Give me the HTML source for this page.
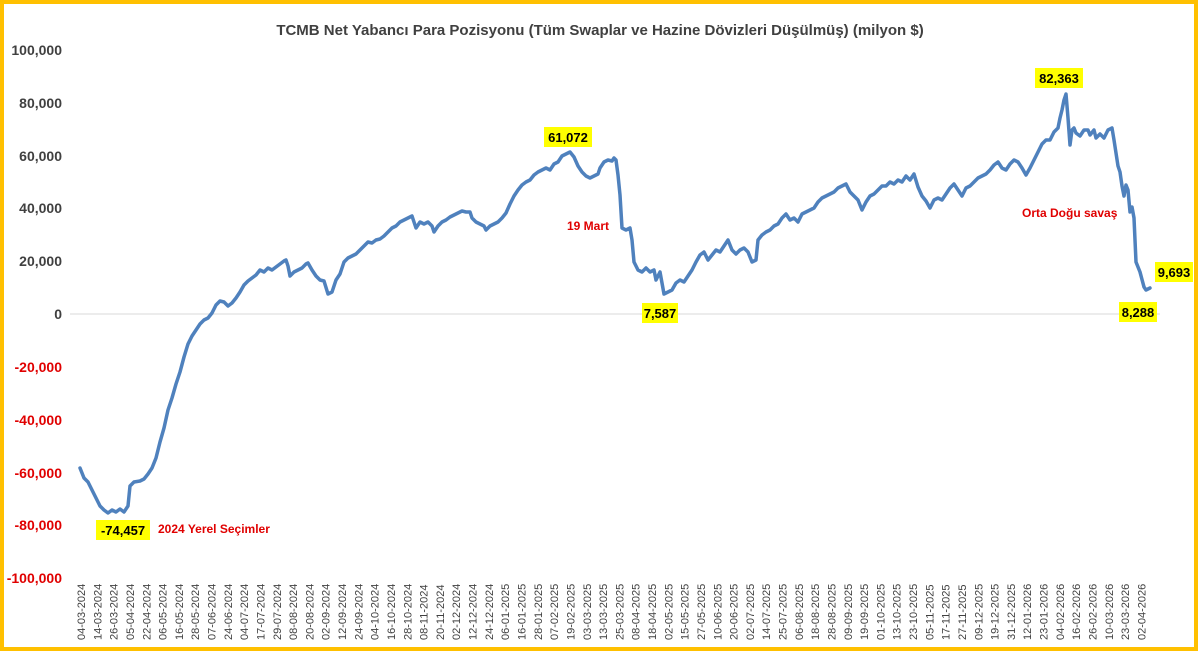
<!DOCTYPE html>
<html><head><meta charset="utf-8"><style>
html,body{margin:0;padding:0;background:#fff}
svg{display:block}
text{font-family:"Liberation Sans","DejaVu Sans",sans-serif}
</style></head><body>
<svg width="1200" height="653" viewBox="0 0 1200 653" xmlns="http://www.w3.org/2000/svg">
<rect x="0" y="0" width="1200" height="653" fill="#fff"/>
<rect x="2" y="2" width="1194" height="647" fill="none" stroke="#FFC000" stroke-width="4"/>
<text x="600" y="35" text-anchor="middle" font-size="15" font-weight="bold" fill="#404040">TCMB Net Yabancı Para Pozisyonu (Tüm Swaplar ve Hazine Dövizleri Düşülmüş) (milyon $)</text>
<line x1="70" y1="314" x2="1160" y2="314" stroke="#d9d9d9" stroke-width="1"/>
<g font-size="14" font-weight="bold" text-anchor="end">
<text x="62" y="55" fill="#404040">100,000</text>
<text x="62" y="108" fill="#404040">80,000</text>
<text x="62" y="161" fill="#404040">60,000</text>
<text x="62" y="213" fill="#404040">40,000</text>
<text x="62" y="266" fill="#404040">20,000</text>
<text x="62" y="319" fill="#404040">0</text>
<text x="62" y="372" fill="#E00000">-20,000</text>
<text x="62" y="425" fill="#E00000">-40,000</text>
<text x="62" y="478" fill="#E00000">-60,000</text>
<text x="62" y="530" fill="#E00000">-80,000</text>
<text x="62" y="583" fill="#E00000">-100,000</text>
</g>
<g id="xl" font-size="11" fill="#404040"></g>
<polyline fill="none" stroke="#4F81BD" stroke-width="3.5" stroke-linejoin="round" stroke-linecap="round" points="80,468 84,478 88,482 92,490 96,498 100,506 104,510 108,513 112,510 116,512 120,509 124,512 128,506 130,486 134,482 140,481 144,479 148,474 152,468 156,458 160,442 164,428 168,410 172,398 176,384 180,372 184,357 188,344 192,336 196,330 200,324 204,320 208,318 212,313 216,305 220,301 224,302 228,306 232,303 236,298 240,292 244,285 248,281 252,278 256,275 260,270 264,272 268,268 272,270 276,267 280,264 284,261 286,260 288,266 290,276 294,272 298,270 302,268 306,264 308,263 312,270 316,276 320,280 324,281 328,294 332,292 336,280 340,274 344,262 348,258 352,256 356,254 360,250 364,246 368,242 372,243 376,240 380,239 384,236 388,232 392,228 396,226 400,222 404,220 408,218 412,216 416,228 420,222 424,224 428,222 432,226 434,232 438,226 442,222 446,220 450,217 454,215 458,213 462,211 466,212 470,212 472,218 476,222 480,224 484,226 486,230 490,226 494,224 498,222 502,218 506,213 510,204 514,196 518,190 522,185 526,182 530,180 534,175 538,172 542,170 546,168 550,170 554,164 558,162 562,156 566,154 570,152 574,157 578,166 582,172 586,176 590,178 594,176 598,174 600,168 604,162 608,160 612,161 614,158 616,160 618,175 620,195 622,228 626,230 630,228 632,240 634,262 638,270 642,272 646,268 650,272 654,270 656,280 660,272 664,294 668,292 672,290 676,283 680,280 684,282 688,276 692,270 696,262 700,255 704,252 708,260 712,255 716,250 720,252 724,246 728,240 732,250 736,254 740,250 744,248 748,252 752,262 756,260 758,240 762,235 766,232 770,230 774,226 778,224 782,218 786,214 790,220 794,218 798,222 802,214 806,212 810,210 814,208 818,202 822,198 826,196 830,194 834,192 838,188 842,186 846,184 850,192 854,196 858,200 862,210 866,202 870,196 874,194 878,190 882,186 886,186 890,182 894,184 898,180 902,182 906,176 910,180 914,174 918,187 922,196 926,201 930,208 934,200 938,198 942,200 946,194 950,188 954,184 958,190 962,196 966,188 970,186 974,182 978,178 982,176 986,174 990,170 994,165 998,162 1002,168 1006,170 1010,164 1014,160 1018,162 1022,168 1026,175 1030,168 1034,160 1038,152 1042,144 1046,140 1050,140 1054,132 1058,128 1060,118 1062,110 1064,100 1066,94 1068,118 1070,145 1072,130 1074,128 1076,133 1080,136 1084,130 1088,130 1090,135 1094,130 1096,138 1100,134 1104,138 1108,130 1112,128 1114,140 1118,166 1120,172 1122,186 1124,196 1126,185 1128,190 1130,212 1132,207 1134,218 1136,262 1140,272 1144,287 1146,290 1150,288"/>
<g font-size="13" font-weight="bold" fill="#000">
<rect x="544" y="127" width="48" height="20" fill="#FFFF00"/><text x="568" y="142" text-anchor="middle">61,072</text>
<rect x="642" y="303" width="36" height="20" fill="#FFFF00"/><text x="660" y="318" text-anchor="middle">7,587</text>
<rect x="96" y="520" width="54" height="20" fill="#FFFF00"/><text x="123" y="535" text-anchor="middle">-74,457</text>
<rect x="1035" y="68" width="48" height="20" fill="#FFFF00"/><text x="1059" y="83" text-anchor="middle">82,363</text>
<rect x="1155" y="262" width="38" height="20" fill="#FFFF00"/><text x="1174" y="277" text-anchor="middle">9,693</text>
<rect x="1119" y="302" width="38" height="20" fill="#FFFF00"/><text x="1138" y="317" text-anchor="middle">8,288</text>
</g>
<g font-size="12" font-weight="bold" fill="#E00000">
<text x="567" y="230">19 Mart</text>
<text x="158" y="533">2024 Yerel Seçimler</text>
<text x="1022" y="217">Orta Doğu savaş</text>
</g>
<g font-size="11" fill="#404040">
<script>/* no-op */</script>
</g>
<g font-size="11" fill="#404040" id="labels">
</g>
<g font-size="11" fill="#404040">
<text transform="translate(85.0,640) rotate(-90)">04-03-2024</text><text transform="translate(101.3,640) rotate(-90)">14-03-2024</text><text transform="translate(117.6,640) rotate(-90)">26-03-2024</text><text transform="translate(134.0,640) rotate(-90)">05-04-2024</text><text transform="translate(150.3,640) rotate(-90)">22-04-2024</text><text transform="translate(166.6,640) rotate(-90)">06-05-2024</text><text transform="translate(182.9,640) rotate(-90)">16-05-2024</text><text transform="translate(199.2,640) rotate(-90)">28-05-2024</text><text transform="translate(215.5,640) rotate(-90)">07-06-2024</text><text transform="translate(231.8,640) rotate(-90)">24-06-2024</text><text transform="translate(248.2,640) rotate(-90)">04-07-2024</text><text transform="translate(264.5,640) rotate(-90)">17-07-2024</text><text transform="translate(280.8,640) rotate(-90)">29-07-2024</text><text transform="translate(297.1,640) rotate(-90)">08-08-2024</text><text transform="translate(313.4,640) rotate(-90)">20-08-2024</text><text transform="translate(329.7,640) rotate(-90)">02-09-2024</text><text transform="translate(346.0,640) rotate(-90)">12-09-2024</text><text transform="translate(362.4,640) rotate(-90)">24-09-2024</text><text transform="translate(378.7,640) rotate(-90)">04-10-2024</text><text transform="translate(395.0,640) rotate(-90)">16-10-2024</text><text transform="translate(411.3,640) rotate(-90)">28-10-2024</text><text transform="translate(427.6,640) rotate(-90)">08-11-2024</text><text transform="translate(443.9,640) rotate(-90)">20-11-2024</text><text transform="translate(460.2,640) rotate(-90)">02-12-2024</text><text transform="translate(476.6,640) rotate(-90)">12-12-2024</text><text transform="translate(492.9,640) rotate(-90)">24-12-2024</text><text transform="translate(509.2,640) rotate(-90)">06-01-2025</text><text transform="translate(525.5,640) rotate(-90)">16-01-2025</text><text transform="translate(541.8,640) rotate(-90)">28-01-2025</text><text transform="translate(558.1,640) rotate(-90)">07-02-2025</text><text transform="translate(574.4,640) rotate(-90)">19-02-2025</text><text transform="translate(590.8,640) rotate(-90)">03-03-2025</text><text transform="translate(607.1,640) rotate(-90)">13-03-2025</text><text transform="translate(623.4,640) rotate(-90)">25-03-2025</text><text transform="translate(639.7,640) rotate(-90)">08-04-2025</text><text transform="translate(656.0,640) rotate(-90)">18-04-2025</text><text transform="translate(672.3,640) rotate(-90)">02-05-2025</text><text transform="translate(688.6,640) rotate(-90)">15-05-2025</text><text transform="translate(705.0,640) rotate(-90)">27-05-2025</text><text transform="translate(721.3,640) rotate(-90)">10-06-2025</text><text transform="translate(737.6,640) rotate(-90)">20-06-2025</text><text transform="translate(753.9,640) rotate(-90)">02-07-2025</text><text transform="translate(770.2,640) rotate(-90)">14-07-2025</text><text transform="translate(786.5,640) rotate(-90)">25-07-2025</text><text transform="translate(802.8,640) rotate(-90)">06-08-2025</text><text transform="translate(819.2,640) rotate(-90)">18-08-2025</text><text transform="translate(835.5,640) rotate(-90)">28-08-2025</text><text transform="translate(851.8,640) rotate(-90)">09-09-2025</text><text transform="translate(868.1,640) rotate(-90)">19-09-2025</text><text transform="translate(884.4,640) rotate(-90)">01-10-2025</text><text transform="translate(900.7,640) rotate(-90)">13-10-2025</text><text transform="translate(917.0,640) rotate(-90)">23-10-2025</text><text transform="translate(933.4,640) rotate(-90)">05-11-2025</text><text transform="translate(949.7,640) rotate(-90)">17-11-2025</text><text transform="translate(966.0,640) rotate(-90)">27-11-2025</text><text transform="translate(982.3,640) rotate(-90)">09-12-2025</text><text transform="translate(998.6,640) rotate(-90)">19-12-2025</text><text transform="translate(1014.9,640) rotate(-90)">31-12-2025</text><text transform="translate(1031.2,640) rotate(-90)">12-01-2026</text><text transform="translate(1047.6,640) rotate(-90)">23-01-2026</text><text transform="translate(1063.9,640) rotate(-90)">04-02-2026</text><text transform="translate(1080.2,640) rotate(-90)">16-02-2026</text><text transform="translate(1096.5,640) rotate(-90)">26-02-2026</text><text transform="translate(1112.8,640) rotate(-90)">10-03-2026</text><text transform="translate(1129.1,640) rotate(-90)">23-03-2026</text><text transform="translate(1145.4,640) rotate(-90)">02-04-2026</text>
</g>
</svg>
</body></html>
